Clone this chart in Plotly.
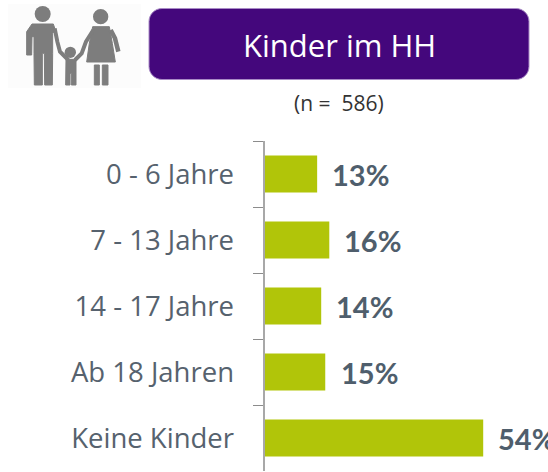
import plotly.graph_objects as go

categories = ["0 - 6 Jahre", "7 - 13 Jahre", "14 - 17 Jahre", "Ab 18 Jahren", "Keine Kinder"]
values = [13, 16, 14, 15, 54]
value_labels = ["13%", "16%", "14%", "15%", "54%"]
label_shifts = [13, 13, 13, 14, 13]
title_text = "Kinder im HH"
subtitle_text = "(n =  586)"

W, H = 548, 472
GREEN = "#b1c509"
PURPLE = "#44077c"
GREY = "#7d7d7d"
TEXT = "#56626e"
VALUE = "#4f5e6c"


def px(x):
    return x / W


def py(y):
    return 1 - y / H


def path(points, close=True):
    s = "M " + " L ".join(f"{px(x/3):.5f},{py(y/3):.5f}" for x, y in points)
    return s + (" Z" if close else "")


def poly(points):
    return dict(type="path", xref="paper", yref="paper", path=path(points),
                fillcolor=GREY, line=dict(color=GREY, width=1), layer="above")


def stroke(points, width):
    return dict(type="path", xref="paper", yref="paper", path=path(points, False),
                line=dict(color=GREY, width=width), layer="above")


def circle(cx, cy, r):
    return dict(type="circle", xref="paper", yref="paper",
                x0=px((cx - r) / 3), x1=px((cx + r) / 3),
                y0=py((cy + r) / 3), y1=py((cy - r) / 3),
                fillcolor=GREY, line=dict(width=0), layer="above")


def rounded(x0, y0, x1, y1, r):
    k = 0.45 * r
    return (f"M {px(x0+r)},{py(y0)} L {px(x1-r)},{py(y0)} "
            f"C {px(x1-k)},{py(y0)} {px(x1)},{py(y0+k)} {px(x1)},{py(y0+r)} "
            f"L {px(x1)},{py(y1-r)} C {px(x1)},{py(y1-k)} {px(x1-k)},{py(y1)} {px(x1-r)},{py(y1)} "
            f"L {px(x0+r)},{py(y1)} C {px(x0+k)},{py(y1)} {px(x0)},{py(y1-k)} {px(x0)},{py(y1-r)} "
            f"L {px(x0)},{py(y0+r)} C {px(x0)},{py(y0+k)} {px(x0+k)},{py(y0)} {px(x0+r)},{py(y0)} Z")


shapes = [
    dict(type="rect", xref="paper", yref="paper", x0=px(8), x1=px(141), y0=py(88), y1=py(4),
         fillcolor="#fcfcfc", line=dict(width=0), layer="below"),
    dict(type="path", xref="paper", yref="paper", path=rounded(149, 8.5, 529, 79.5, 13),
         fillcolor=PURPLE, line=dict(color="#a98bc6", width=1), layer="below"),
    # man
    circle(128, 42, 24),
    poly([(96, 72), (160, 72), (166, 90), (158, 100), (158, 160), (157, 255), (134, 255), (133, 160),
          (127, 160), (127, 255), (103, 255), (102, 160), (102, 110), (96, 110), (95, 165), (80, 165),
          (80, 95)]),
    stroke([(164, 85), (172, 125), (180, 155), (205, 180)], 4),
    # child
    circle(211, 157, 17),
    poly([(198, 178), (228, 178), (228, 255), (214, 255), (214, 220), (210, 220), (210, 255), (197, 255)]),
    # woman
    circle(302, 50, 23),
    poly([(278, 80), (328, 80), (337, 130), (346, 186), (260, 186), (268, 130)]),
    stroke([(280, 90), (258, 125), (245, 160), (225, 180)], 4),
    stroke([(332, 90), (345, 115), (355, 155)], 4.5),
    poly([(283, 195), (298, 195), (298, 255), (283, 255)]),
    poly([(307, 195), (324, 195), (324, 255), (307, 255)]),
]

annotations = [
    dict(x=px(339), y=py(45), xref="paper", yref="paper", text=title_text, showarrow=False,
         xanchor="center", yanchor="middle", font=dict(family="Open Sans", size=31, color="white")),
    dict(x=px(338.5), y=py(102.5), xref="paper", yref="paper", text=subtitle_text, showarrow=False,
         xanchor="center", yanchor="middle", font=dict(family="Open Sans", size=21, color="#333333")),
]
for c, v, t, s in zip(categories, values, value_labels, label_shifts):
    annotations.append(dict(x=v, y=c, xref="x", yref="y", text=t, showarrow=False, xanchor="left",
                            yanchor="middle", xshift=s, yshift=0,
                            font=dict(family="Lato", size=29, color=VALUE, weight="bold")))

fig = go.Figure(go.Bar(y=categories, x=values, orientation="h", marker=dict(color=GREEN, line=dict(width=0)),
                       width=0.56, hoverinfo="skip"))
fig.update_layout(
    width=W, height=H, margin=dict(l=0, r=0, t=0, b=0), autosize=False,
    paper_bgcolor="white", plot_bgcolor="white", showlegend=False,
    shapes=shapes, annotations=annotations,
    xaxis=dict(domain=[264.5 / W, 1], range=[0, 283.5 / 4.05], visible=False),
    yaxis=dict(domain=[py(471), py(141)], autorange="reversed", type="category",
               showline=True, linecolor="#a8a8a8", linewidth=2, ticks="outside", ticklen=10,
               tickwidth=1, tickcolor="#8c8c8c", tickson="boundaries", showgrid=False,
               ticklabelstandoff=23,
               tickfont=dict(family="Open Sans", size=27.5, color=TEXT)),
)
fig.write_html("out.html", config=dict(displayModeBar=False),
               post_script="document.body.style.margin='0';document.body.style.overflow='hidden';window.dispatchEvent(new Event('resize'));")
